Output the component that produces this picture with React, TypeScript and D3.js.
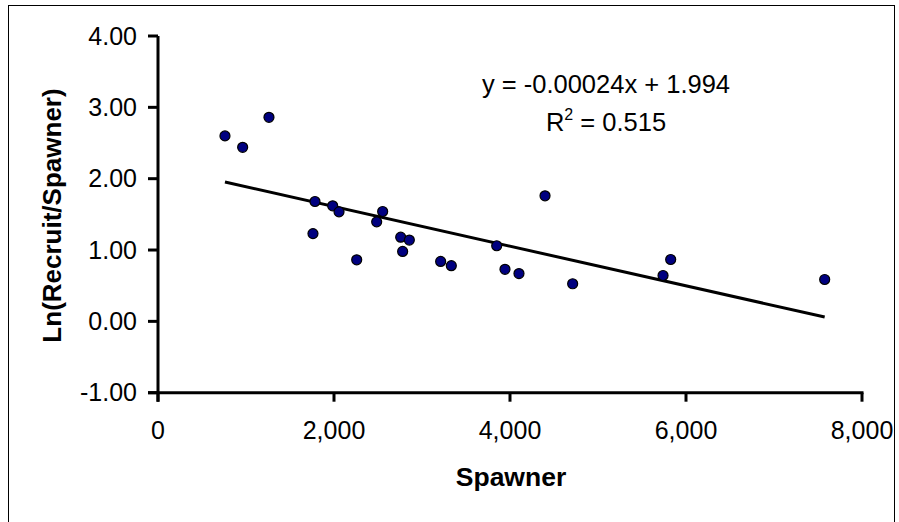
import React from "react";
import * as d3 from "d3";

const spawner = [761, 962, 1261, 1784, 1761, 1985, 2057, 2258, 2485, 2553, 2758, 2856, 2780, 3212, 3333, 3849, 3943, 4102, 4398, 4712, 5826, 5739, 7576];
const lnRS = [2.6, 2.44, 2.86, 1.68, 1.23, 1.62, 1.535, 0.863, 1.395, 1.54, 1.18, 1.14, 0.98, 0.84, 0.78, 1.06, 0.73, 0.67, 1.76, 0.527, 0.867, 0.643, 0.587];
const xTicks = [0, 2000, 4000, 6000, 8000];
const yTicks = [-1, 0, 1, 2, 3, 4];
const eqLine1 = "y = -0.00024x + 1.994";
const r2Value = "0.515";
const xTitle = "Spawner";
const yTitle = "Ln(Recruit/Spawner)";

export default function App() {
  const W = 899, H = 522;
  const x = d3.scaleLinear().domain([0, 8000]).range([158, 862]);
  const y = d3.scaleLinear().domain([-1, 4]).range([392.7, 36]);
  const font = "'Liberation Sans', Arial, sans-serif";

  const n = spawner.length;
  const mx = d3.mean(spawner) as number;
  const my = d3.mean(lnRS) as number;
  let sxy = 0, sxx = 0;
  for (let i = 0; i < n; i++) {
    sxy += (spawner[i] - mx) * (lnRS[i] - my);
    sxx += (spawner[i] - mx) ** 2;
  }
  const slope = sxy / sxx;
  const intercept = my - slope * mx;
  const [xmin, xmax] = d3.extent(spawner) as [number, number];
  const line = d3.line<number>().x((d) => x(d)).y((d) => y(slope * d + intercept));

  const axisColor = "#000";
  return (
    <svg width={W} height={H} style={{ position: "absolute", left: 0, top: 0, background: "#fff" }}>
      <rect x={8.5} y={5.5} width={886} height={540} fill="#fff" stroke="#000" strokeWidth={1} />
      {/* y axis */}
      <line x1={x(0)} x2={x(0)} y1={y(4)} y2={y(-1) + 9} stroke={axisColor} strokeWidth={3} />
      {yTicks.map((t) => (
        <g key={"y" + t}>
          <line x1={x(0) - 10} x2={x(0)} y1={y(t)} y2={y(t)} stroke={axisColor} strokeWidth={3} />
          <text x={137} y={y(t)} dy="0.35em" textAnchor="end" fontFamily={font} fontSize={25} fill="#000">
            {t.toFixed(2)}
          </text>
        </g>
      ))}
      {/* x axis */}
      <line x1={x(0) - 10} x2={x(8000) + 1.5} y1={y(-1)} y2={y(-1)} stroke={axisColor} strokeWidth={3} />
      {xTicks.map((t) => (
        <g key={"x" + t}>
          <line x1={x(t)} x2={x(t)} y1={y(-1)} y2={y(-1) + 9} stroke={axisColor} strokeWidth={3} />
          <text x={x(t)} y={439} textAnchor="middle" fontFamily={font} fontSize={25} fill="#000">
            {d3.format(",")(t)}
          </text>
        </g>
      ))}
      {/* trend line */}
      <path d={line([xmin, xmax]) || ""} fill="none" stroke="#000" strokeWidth={3} />
      {/* points */}
      {spawner.map((s, i) => (
        <circle key={i} cx={x(s)} cy={y(lnRS[i])} r={5} fill="#000080" stroke="#000" strokeWidth={1.2} />
      ))}
      {/* equation */}
      <text x={606} y={93} textAnchor="middle" fontFamily={font} fontSize={25.5} fill="#000">
        {eqLine1}
      </text>
      <text x={606} y={131} textAnchor="middle" fontFamily={font} fontSize={25.5} fill="#000">
        R<tspan fontSize={16} dy={-11}>2</tspan>
        <tspan dy={11}>{" = " + r2Value}</tspan>
      </text>
      {/* titles */}
      <text x={511} y={486} textAnchor="middle" fontFamily={font} fontSize={26.5} fontWeight="bold" fill="#000">
        {xTitle}
      </text>
      <text
        transform={`translate(60.5, 215.5) rotate(-90)`}
        textAnchor="middle"
        fontFamily={font}
        fontSize={26}
        fontWeight="bold"
        fill="#000"
      >
        {yTitle}
      </text>
    </svg>
  );
}
